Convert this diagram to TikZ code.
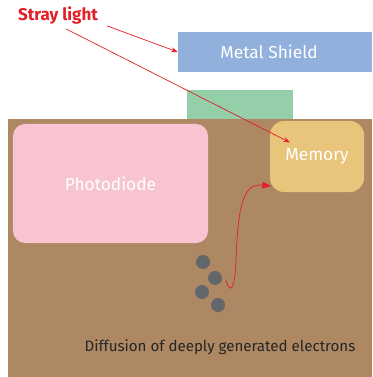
\documentclass[tikz,border=0pt]{standalone}
\usepackage{fontspec}
\setmainfont{Fira Sans}
\usetikzlibrary{arrows.meta,positioning,calc}
\definecolor{soil}{RGB}{173,136,99}
\definecolor{diode}{RGB}{248,196,210}
\definecolor{shield}{RGB}{145,176,219}
\definecolor{gate}{RGB}{149,207,170}
\definecolor{mem}{RGB}{233,196,123}
\definecolor{elec}{RGB}{99,103,107}
\definecolor{ray}{RGB}{226,30,38}
\begin{document}
\begin{tikzpicture}[x=0.03cm,y=-0.03cm,>=Stealth,
 box/.style={inner sep=0pt,text=white,font=\fontsize{14.8}{18}\selectfont},
 el/.style={circle,fill=elec,minimum size=0.42cm,inner sep=0pt},
 ray/.style={draw=ray,line width=0.6pt}]
\useasboundingbox (0,0) rectangle (372,377);
\fill[soil] (8,119) rectangle (372,377);
\fill[gate] (187,90) rectangle (293,119);
\node[box,fill=shield,minimum width=5.82cm,minimum height=1.2cm] (sh) at (275,52) {\hspace*{-0.36cm}Metal Shield};
\node[box,fill=diode,rounded corners=0.36cm,minimum width=5.85cm,minimum height=3.57cm] (pd) at (110.5,183.5) {Photodiode};
\node[box,fill=mem,rounded corners=0.42cm,minimum width=2.82cm,minimum height=2.13cm] (mm) at (317,156.5) {Memory};
\node[font=\fontsize{14.5}{17}\selectfont\bfseries,text=ray] (sl) at (58,16) {Stray light};
\node[el] (e1) at (203,262) {}; \node[el] (e2) at (215,278) {};
\node[el] (e3) at (202,292) {}; \node[el] (e4) at (218,305) {};
\node[text=black!85,font=\fontsize{12.9}{15}\selectfont] (df) at (220,347) {Diffusion of deeply generated electrons};
\coordinate (st) at (226,280);
\draw[ray,->] ($(sl.south east)+(5,-3)$) -- (sh.west);
\draw[ray,->] ($(sl.south)+(8,0)$) -- ($(mm.center)+(-27,-14)$);
\draw[ray,-{Latex[length=8pt,width=6pt]}] (st) .. controls (230,295) and (235,290) .. (236,260)
  .. controls (238,200) and (245,183) .. ($(mm.south west)+(2,-6)$);
\end{tikzpicture}
\end{document}
